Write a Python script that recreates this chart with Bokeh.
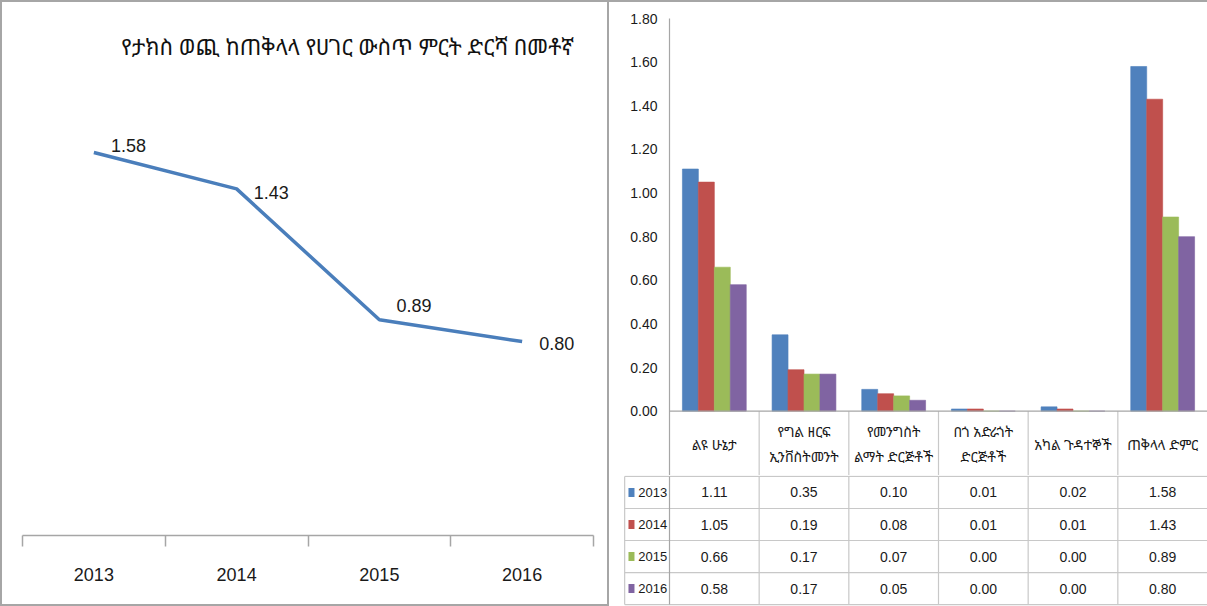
from bokeh.plotting import figure
from bokeh.layouts import row, column
from bokeh.models import Range1d, FixedTicker, NumeralTickFormatter, Label, Span
from bokeh.embed import file_html
from bokeh.resources import INLINE
from bokeh.core.properties import value

# ---------------- data ----------------
title_text = "የታክስ ወጪ ከጠቅላላ የሀገር ውስጥ ምርት ድርሻ በመቶኛ"
years = [2013, 2014, 2015, 2016]
total_share = [1.58, 1.43, 0.89, 0.80]

categories = [
    "ልዩ ሁኔታ",
    "የግል ዘርፍ\nኢንቨስትመንት",
    "የመንግስት\nልማት ድርጅቶች",
    "በጎ አድራጎት\nድርጅቶች",
    "አካል ጉዳተኞች",
    "ጠቅላላ ድምር",
]
series_years = ["2013", "2014", "2015", "2016"]
v2013 = [1.11, 0.35, 0.10, 0.01, 0.02, 1.58]
v2014 = [1.05, 0.19, 0.08, 0.01, 0.01, 1.43]
v2015 = [0.66, 0.17, 0.07, 0.00, 0.00, 0.89]
v2016 = [0.58, 0.17, 0.05, 0.00, 0.00, 0.80]
y_ticks = [0.0, 0.2, 0.4, 0.6, 0.8, 1.0, 1.2, 1.4, 1.6, 1.8]

# ---------------- styles ----------------
NARROW = "Liberation Sans Narrow, Arial Narrow, Liberation Sans, sans-serif"
ETH = "Noto Sans Ethiopic, Abyssinica SIL, Noto Sans, sans-serif"
BORDER = "2px solid #a6a6a6"
GRID = "#c8c8c8"
AXIS = "#a6a6a6"
colors = ["#4F81BD", "#C0504D", "#9BBB59", "#8064A2"]
label_dy = [-7, 4, -14, 2]

# ---------------- left: line chart ----------------
left = figure(width=609, height=606,
              x_range=Range1d(years[0] - 0.5, years[-1] + 0.5),
              y_range=Range1d(0, 2.199),
              output_backend="svg", toolbar_location=None,
              y_axis_location=None,
              min_border_left=20, min_border_right=18,
              min_border_top=0, min_border_bottom=73,
              frame_align=False,
              styles={"border-top": BORDER, "border-left": BORDER,
                      "border-right": BORDER, "border-bottom": BORDER})
left.grid.visible = False
left.outline_line_color = None

left.line(years, total_share, line_width=3.5, color="#4A7EBB")
left.text(x=years, y=total_share, text=[f"{v:.2f}" for v in total_share],
          x_offset=17, y_offset=label_dy,
          text_align="left", text_baseline="middle",
          text_font=value(NARROW), text_font_size="18px", text_color="#1a1a1a")

left.add_layout(Label(x=2014.777, y=2.021, text=title_text,
                      text_align="center", text_baseline="middle",
                      text_font=ETH, text_font_size="22px",
                      text_color="#111111"))

ax = left.xaxis[0]
ax.ticker = FixedTicker(ticks=years,
                        minor_ticks=[y - 0.5 for y in years] + [years[-1] + 0.5])
ax.major_tick_out = 0
ax.major_tick_in = 0
ax.minor_tick_out = 11
ax.minor_tick_in = 0
ax.minor_tick_line_color = AXIS
ax.minor_tick_line_width = 1.5
ax.axis_line_color = AXIS
ax.axis_line_width = 1.5
ax.major_label_standoff = 21
ax.major_label_text_font = NARROW
ax.major_label_text_font_size = "18px"
ax.major_label_text_color = "#1a1a1a"

# ---------------- right: bar chart ----------------
n = len(categories)
bw = 0.178
hdr = -0.304
bar = figure(width=598, height=475,
             x_range=Range1d(0, n), y_range=Range1d(hdr, 1.8),
             output_backend="svg", toolbar_location=None,
             x_axis_location=None,
             min_border_left=60, min_border_right=0,
             min_border_top=16, min_border_bottom=0,
             frame_align=False,
             styles={"border-top": BORDER})
bar.grid.visible = False
bar.outline_line_color = None

for j, vals in enumerate([v2013, v2014, v2015, v2016]):
    xs = [i + 0.5 + (j - 1.5) * bw for i in range(n)]
    bar.vbar(x=xs, top=vals, bottom=0, width=bw, fill_color=colors[j],
             line_color=colors[j], line_alpha=0.6)

yax = bar.yaxis[0]
yax.ticker = FixedTicker(ticks=y_ticks)
yax.formatter = NumeralTickFormatter(format="0.00")
yax.major_tick_out = 0
yax.major_tick_in = 0
yax.minor_tick_out = 0
yax.minor_tick_in = 0
yax.axis_line_color = AXIS
yax.axis_line_width = 1.2
yax.major_label_standoff = 12
yax.major_label_text_font = NARROW
yax.major_label_text_font_size = "14px"
yax.major_label_text_color = "#1a1a1a"

bar.add_layout(Span(location=0, dimension="width", line_color=AXIS,
                    line_width=1.2))
bar.segment(x0=list(range(1, n)), y0=[hdr] * (n - 1),
            x1=list(range(1, n)), y1=[0] * (n - 1),
            line_color=GRID, line_width=1.2)
bar.text(x=[i + 0.5 for i in range(n)], y=[hdr / 2] * n, text=categories,
         text_align="center", text_baseline="middle",
         text_font=value(ETH), text_font_size="14px", text_color="#1a1a1a",
         text_line_height=1.3)

# ---------------- right: data table ----------------
tbl = figure(width=598, height=131,
             x_range=Range1d(-60 / 89.67, n), y_range=Range1d(-4.06, 0.03),
             output_backend="svg", toolbar_location=None,
             x_axis_location=None, y_axis_location=None,
             min_border=0, frame_align=False)
tbl.grid.visible = False
tbl.outline_line_color = None

rows = [v2013, v2014, v2015, v2016]
nr = len(rows)
tbl.segment(x0=[-0.5] * (nr + 1), y0=[-r for r in range(nr + 1)],
            x1=[n] * (nr + 1), y1=[-r for r in range(nr + 1)],
            line_color=GRID, line_width=1.2)
tbl.segment(x0=[-0.5] + list(range(1, n)), y0=[0] * n,
            x1=[-0.5] + list(range(1, n)), y1=[-nr] * n,
            line_color=GRID, line_width=1.2)
tbl.segment(x0=[0], y0=[0], x1=[0], y1=[-nr], line_color=AXIS,
            line_width=1.2)

for r, vals in enumerate(rows):
    yc = -(r + 0.5)
    tbl.rect(x=[-0.424], y=[yc], width=6, height=9,
             width_units="screen", height_units="screen",
             fill_color=colors[r], line_color=None)
    tbl.text(x=[-0.025], y=[yc], text=[series_years[r]],
             text_align="right", text_baseline="middle",
             text_font=value(NARROW), text_font_size="13px",
             text_color="#1a1a1a")
    tbl.text(x=[i + 0.5 for i in range(n)], y=[yc] * n,
             text=[f"{v:.2f}" for v in vals],
             text_align="center", text_baseline="middle",
             text_font=value(NARROW), text_font_size="14px",
             text_color="#1a1a1a")

layout = row(left, column(bar, tbl, spacing=0), spacing=0)

with open("out.html", "w") as f:
    f.write(file_html(layout, INLINE))
